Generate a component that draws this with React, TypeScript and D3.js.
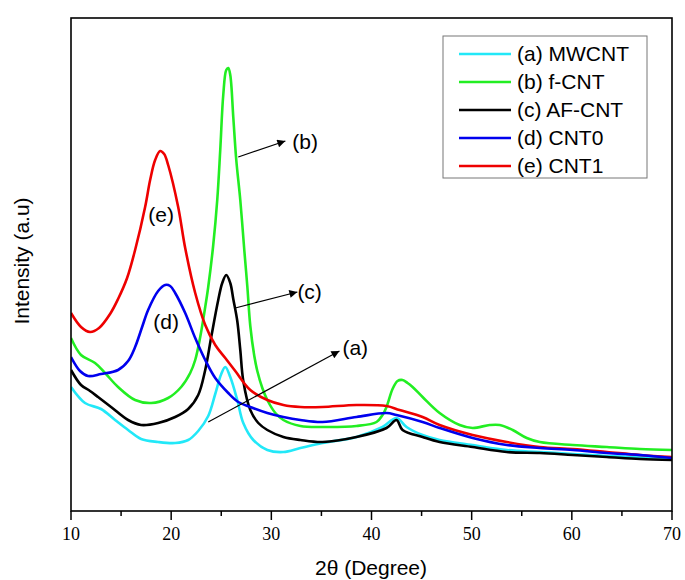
import React from "react";
import * as d3 from "d3";

type Pt = [number, number];

// 2θ (degree), intensity (a.u.)
const seriesA: Pt[] = [
  [10, 124], [11.4, 108], [13.0, 102], [14.4, 91], [15.7, 81], [17.0, 72], [18.7, 69], [20.4, 68],
  [21.7, 71], [22.7, 80], [23.7, 95], [24.4, 117], [25.0, 137], [25.4, 144], [25.9, 134], [26.6, 111],
  [27.2, 88], [28.2, 71], [29.6, 61], [31.2, 59], [32.9, 63], [35.1, 68], [38.5, 74], [41.1, 84],
  [42.5, 93], [43.5, 84], [45.1, 76], [46.8, 71], [50.1, 66], [53.5, 61], [56.8, 59], [60.1, 57],
  [63.5, 55], [66.8, 54], [70, 53],
];
const seriesB: Pt[] = [
  [10, 173], [11, 156], [12.4, 148], [13.4, 138], [14.7, 124], [16.4, 111], [18.0, 108], [19.7, 113],
  [21.0, 124], [21.9, 138], [22.4, 151], [22.9, 174], [23.4, 204], [23.7, 224], [24.2, 266], [24.6, 311],
  [24.9, 361], [25.2, 416], [25.5, 441], [25.7, 443], [25.9, 436], [26.2, 394], [26.5, 351], [26.9, 311],
  [27.3, 261], [27.6, 225], [27.9, 185], [28.3, 155], [28.6, 140], [29.1, 123], [29.6, 111], [30.4, 98],
  [31.2, 91], [32.9, 85], [35.1, 84], [38.5, 85], [40.5, 89], [41.1, 96], [41.5, 104], [42.1, 122],
  [42.6, 130], [43.1, 131], [43.6, 128], [44.1, 124], [45.1, 114], [46.8, 98], [48.8, 86], [50.1, 83],
  [51.8, 86], [52.8, 86], [54.1, 81], [55.5, 73], [56.8, 69], [60.1, 66], [63.5, 64], [66.8, 62], [70, 61],
];
const seriesC: Pt[] = [
  [10, 141], [11, 126], [11.9, 120], [12.7, 114], [14.0, 104], [15.7, 91], [17.0, 86], [18.7, 88],
  [20.4, 94], [21.7, 102], [22.7, 116], [23.4, 141], [24.0, 174], [24.7, 211], [25.1, 228], [25.5, 236],
  [25.9, 228], [26.2, 212], [26.6, 190], [26.9, 161], [27.2, 130], [27.9, 101], [28.7, 88], [29.6, 81],
  [31.2, 74], [32.9, 71], [35.1, 69], [38.5, 74], [41.5, 83], [42.5, 91], [43.1, 81], [45.1, 74],
  [46.8, 69], [50.1, 64], [53.5, 59], [56.8, 58], [60.1, 56], [63.5, 54], [66.8, 52], [70, 51],
];
const seriesD: Pt[] = [
  [10, 154], [10.9, 140], [11.7, 135], [13.0, 137], [14.7, 141], [15.7, 150], [16.4, 164], [17.1, 184],
  [17.7, 201], [18.7, 220], [19.4, 226], [19.9, 225], [20.4, 218], [21.4, 198], [22.4, 173], [23.4, 151],
  [24.4, 133], [25.7, 118], [26.7, 109], [27.9, 104], [29.6, 98], [31.2, 94], [32.9, 91], [35.1, 89],
  [38.5, 94], [41.5, 98], [42.5, 96], [45.1, 89], [46.8, 83], [50.1, 73], [53.5, 66], [56.8, 63],
  [60.1, 61], [63.5, 58], [66.8, 56], [70, 53],
];
const seriesE: Pt[] = [
  [10, 198], [11, 184], [11.9, 179], [12.8, 183], [13.9, 197], [14.7, 212], [15.6, 233],
  [16.4, 261], [17.4, 304], [17.9, 331], [18.4, 351], [18.9, 360], [19.3, 357], [19.7, 346], [20.7, 304],
  [21.4, 263], [22.4, 218], [23.4, 186], [24.4, 166], [25.4, 153], [26.4, 140], [27.9, 121], [29.6, 111],
  [31.2, 106], [32.9, 104], [35.1, 104], [38.5, 106], [41.5, 105], [42.8, 101], [45.1, 94], [46.8, 86],
  [50.1, 76], [53.5, 69], [56.8, 64], [60.1, 62], [63.5, 59], [66.8, 56], [70, 54],
];

const seriesNames = ["(a) MWCNT", "(b) f-CNT", "(c) AF-CNT", "(d) CNT0", "(e) CNT1"];
const seriesColors = ["#22E8F8", "#22EE22", "#000000", "#0000EE", "#EE0000"];
const allSeries = [seriesA, seriesB, seriesC, seriesD, seriesE];
const drawOrder = [0, 1, 2, 4, 3];

const xTicks = [10, 20, 30, 40, 50, 60, 70];
const xMinorTicks = [15, 25, 35, 45, 55, 65];

const arrows: { label: string; from: Pt; to: Pt; text: Pt }[] = [
  { label: "(b)", from: [26.7, 354], to: [31.4, 370], text: [32.1, 369] },
  { label: "(c)", from: [26.4, 203], to: [32.6, 219], text: [32.6, 219] },
  { label: "(a)", from: [23.7, 89], to: [36.8, 160], text: [37.1, 163] },
];
const inlineLabels: { label: string; at: Pt }[] = [
  { label: "(e)", at: [19.0, 296] },
  { label: "(d)", at: [19.5, 189] },
];

const L = 71, R = 672, T = 18, B = 511;
const sans = "Arial, 'Liberation Sans', sans-serif";
const serif = "'Liberation Serif', 'Times New Roman', 'DejaVu Serif', serif";

export default function App() {
  const x = d3.scaleLinear().domain([10, 70]).range([L, R]);
  const y = d3.scaleLinear().domain([0, 493]).range([B, T]);
  const line = d3
    .line<Pt>()
    .x((d) => x(d[0]))
    .y((d) => y(d[1]))
    .curve(d3.curveCatmullRom.alpha(0.5));

  return (
    <svg
      width={685}
      height={580}
      style={{ position: "absolute", left: 0, top: 0, background: "#fff" }}
    >
      <defs>
        <marker id="ah" viewBox="0 0 10 10" refX="10" refY="5" markerWidth="12" markerHeight="8" markerUnits="userSpaceOnUse" orient="auto">
          <path d="M0,0 L10,5 L0,10 Z" fill="#000" />
        </marker>
        <clipPath id="clip">
          <rect x={L} y={T} width={R - L} height={B - T} />
        </clipPath>
      </defs>
      <g clipPath="url(#clip)">
        {drawOrder.map((i) => (
          <path
            key={i}
            d={line(allSeries[i]) || ""}
            fill="none"
            stroke={seriesColors[i]}
            strokeWidth={2.6}
            strokeLinejoin="round"
          />
        ))}
      </g>
      <rect x={L} y={T} width={R - L} height={B - T} fill="none" stroke="#000" strokeWidth={1.6} />
      {xTicks.map((t) => (
        <g key={"t" + t}>
          <line x1={x(t)} x2={x(t)} y1={B} y2={B + 9} stroke="#000" strokeWidth={1.5} />
          <text x={x(t)} y={540} style={{ fontFamily: serif }} fontSize={18} textAnchor="middle">
            {t}
          </text>
        </g>
      ))}
      {xMinorTicks.map((t) => (
        <line key={"m" + t} x1={x(t)} x2={x(t)} y1={B} y2={B + 5} stroke="#000" strokeWidth={1.5} />
      ))}
      <text x={371} y={575} fontFamily={sans} fontSize={21} textAnchor="middle">
        2θ (Degree)
      </text>
      <text
        transform="translate(29,261) rotate(-90)"
        fontFamily={sans}
        fontSize={21}
        textAnchor="middle"
      >
        Intensity (a.u)
      </text>
      {arrows.map((a) => (
        <g key={a.label}>
          <line
            x1={x(a.from[0])}
            y1={y(a.from[1])}
            x2={x(a.to[0])}
            y2={y(a.to[1])}
            stroke="#000"
            strokeWidth={1.2}
            markerEnd="url(#ah)"
          />
          <text x={x(a.text[0])} y={y(a.text[1])} dy="0.35em" fontFamily={sans} fontSize={21}>
            {a.label}
          </text>
        </g>
      ))}
      {inlineLabels.map((l) => (
        <text key={l.label} x={x(l.at[0])} y={y(l.at[1])} dy="0.35em" textAnchor="middle" fontFamily={sans} fontSize={21}>
          {l.label}
        </text>
      ))}
      <rect x={443} y={36} width={204} height={142} fill="#fff" stroke="#777" strokeWidth={1} />
      {seriesNames.map((n, i) => (
        <g key={n}>
          <line x1={459} x2={511} y1={54 + i * 28} y2={54 + i * 28} stroke={seriesColors[i]} strokeWidth={2.4} />
          <text x={517} y={54 + i * 28} dy="0.35em" fontFamily={sans} fontSize={21}>
            {n}
          </text>
        </g>
      ))}
    </svg>
  );
}
